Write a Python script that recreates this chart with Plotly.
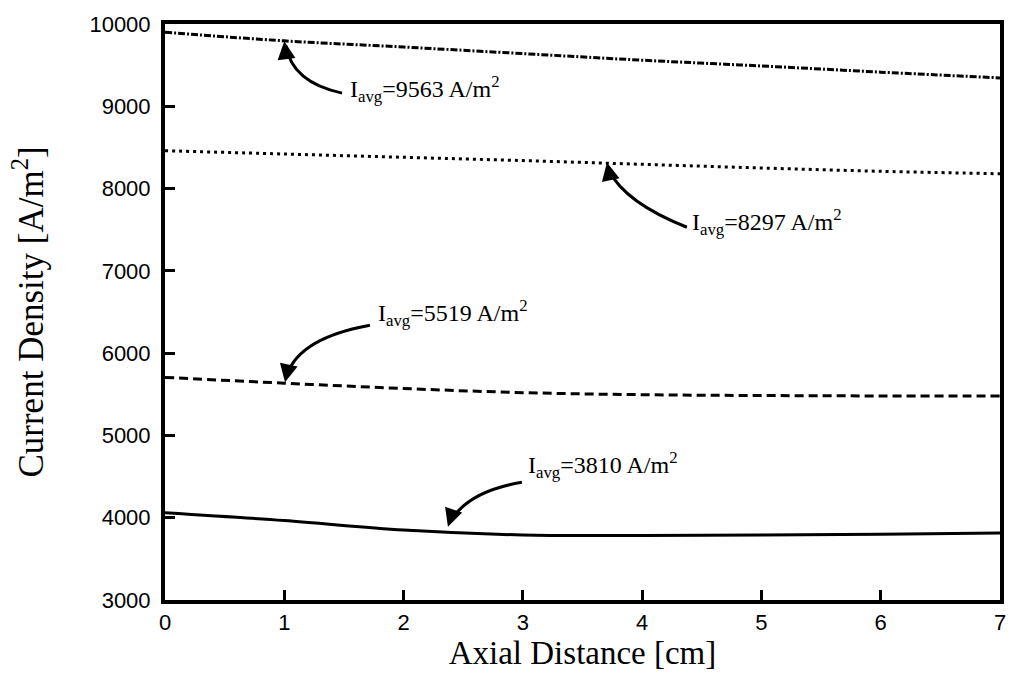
import plotly.graph_objects as go

# Data
axial_cm = [0, 1, 2, 3, 4, 5, 6, 7]
j_9563 = [9900, 9795, 9720, 9640, 9560, 9490, 9415, 9345]
j_8297 = [8460, 8420, 8380, 8340, 8295, 8250, 8210, 8180]
j_5519 = [5705, 5635, 5570, 5520, 5495, 5485, 5480, 5480]
j_3810 = [4060, 3965, 3850, 3790, 3785, 3790, 3800, 3815]
x_ticks = [0, 1, 2, 3, 4, 5, 6, 7]
y_ticks = [3000, 4000, 5000, 6000, 7000, 8000, 9000, 10000]
labels = ["I<sub>avg</sub>=9563 A/m<sup>2</sup>",
          "I<sub>avg</sub>=8297 A/m<sup>2</sup>",
          "I<sub>avg</sub>=5519 A/m<sup>2</sup>",
          "I<sub>avg</sub>=3810 A/m<sup>2</sup>"]

fig = go.Figure()
series = [(j_9563, "7px,2px,2px,2px"), (j_8297, "3px,4px"), (j_5519, "9px,5px"), (j_3810, "solid")]
for ys, dash in series:
    fig.add_trace(go.Scatter(x=axial_cm, y=ys, mode="lines",
                             line=dict(color="black", width=3, dash=dash, shape="spline"),
                             showlegend=False, hoverinfo="skip"))

# label text positions
text_pos = [(1.53, 9210), (4.40, 7590), (1.77, 6490), (3.03, 4640)]
for (tx, ty), lab in zip(text_pos, labels):
    fig.add_annotation(x=tx, y=ty, xref="x", yref="y", text=lab, showarrow=False,
                       xanchor="left", yanchor="middle",
                       font=dict(family="Liberation Serif", size=24, color="black"))

# curved arrow bodies
paths = [
    "M 1.484,9160 Q 1.065,9290 1.014,9735",
    "M 4.375,7530 Q 3.856,7830 3.722,8220",
    "M 1.718,6340 Q 1.132,6187 1.023,5742",
    "M 2.992,4431 Q 2.557,4323 2.406,3986",
]
for p in paths:
    fig.add_shape(type="path", path=p, xref="x", yref="y",
                  line=dict(color="black", width=3))

# arrowheads
heads = [((1.0, 9790), (2, 16)), ((3.705, 8316), (3, 14)),
         ((1.006, 5646), (3, -14)), ((2.372, 3890), (4, -12))]
for (hx, hy), (ax, ay) in heads:
    fig.add_annotation(x=hx, y=hy, xref="x", yref="y", text="", showarrow=True,
                       ax=ax, ay=ay, arrowhead=2, arrowsize=1.2, arrowwidth=3,
                       arrowcolor="black")

fig.update_xaxes(range=[0, 7], tickvals=x_ticks, ticks="inside", ticklen=10, tickwidth=3,
                 tickcolor="black", showline=True, linewidth=4, linecolor="black",
                 mirror=True, showgrid=False, zeroline=False,
                 tickfont=dict(family="Liberation Sans", size=22, color="black"),
                 title=dict(text="Axial Distance [cm]",
                            font=dict(family="Liberation Serif", size=33, color="black"),
                            standoff=6))
fig.update_yaxes(range=[3000, 10000], tickvals=y_ticks, ticks="inside", ticklen=10,
                 tickwidth=3, tickcolor="black", showline=True, linewidth=4,
                 linecolor="black", mirror=True, showgrid=False, zeroline=False,
                 tickformat="d", ticklabelstandoff=6,
                 tickfont=dict(family="Liberation Sans", size=22, color="black"),
                 title=dict(text="Current Density [A/m<sup>2</sup>]",
                            font=dict(family="Liberation Serif", size=35, color="black"),
                            standoff=36))
fig.update_layout(width=1034, height=689, plot_bgcolor="white", paper_bgcolor="white",
                  margin=dict(l=165, r=34, t=18, b=89))
fig.write_html("out.html")
